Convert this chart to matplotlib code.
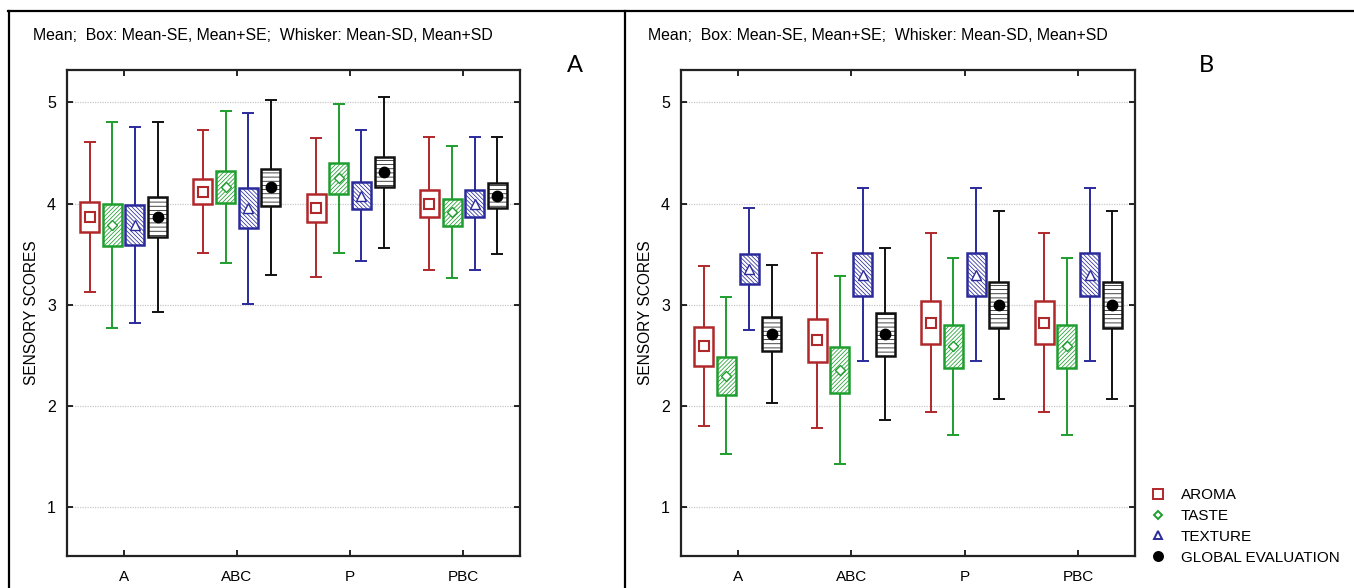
import matplotlib
matplotlib.use("Agg")
import matplotlib.pyplot as plt
from matplotlib.lines import Line2D
import numpy as np

plt.rcParams['font.family'] = ['Liberation Sans', 'DejaVu Sans']
plt.rcParams['hatch.linewidth'] = 0.55

categories = ["A", "ABC", "P", "PBC"]
series = ["AROMA", "TASTE", "TEXTURE", "GLOBAL EVALUATION"]

# Panel A
a_aroma_mean = [3.87, 4.12, 3.96, 4.00]
a_aroma_se = [0.15, 0.125, 0.14, 0.135]
a_aroma_sd = [0.74, 0.61, 0.685, 0.655]
a_taste_mean = [3.79, 4.165, 4.25, 3.915]
a_taste_se = [0.21, 0.16, 0.15, 0.135]
a_taste_sd = [1.015, 0.755, 0.735, 0.65]
a_texture_mean = [3.79, 3.955, 4.08, 4.00]
a_texture_se = [0.20, 0.195, 0.13, 0.13]
a_texture_sd = [0.97, 0.945, 0.65, 0.655]
a_global_mean = [3.87, 4.16, 4.31, 4.08]
a_global_se = [0.195, 0.18, 0.15, 0.12]
a_global_sd = [0.94, 0.865, 0.745, 0.58]

# Panel B
b_aroma_mean = [2.59, 2.65, 2.825, 2.825]
b_aroma_se = [0.19, 0.21, 0.215, 0.215]
b_aroma_sd = [0.79, 0.865, 0.885, 0.885]
b_taste_mean = [2.30, 2.355, 2.59, 2.59]
b_taste_se = [0.19, 0.225, 0.21, 0.21]
b_taste_sd = [0.775, 0.93, 0.87, 0.87]
b_texture_mean = [3.355, 3.30, 3.30, 3.30]
b_texture_se = [0.15, 0.21, 0.21, 0.21]
b_texture_sd = [0.605, 0.85, 0.85, 0.85]
b_global_mean = [2.71, 2.71, 3.00, 3.00]
b_global_se = [0.17, 0.21, 0.23, 0.23]
b_global_sd = [0.68, 0.85, 0.93, 0.93]

panel_a = [(a_aroma_mean, a_aroma_se, a_aroma_sd),
           (a_taste_mean, a_taste_se, a_taste_sd),
           (a_texture_mean, a_texture_se, a_texture_sd),
           (a_global_mean, a_global_se, a_global_sd)]
panel_b = [(b_aroma_mean, b_aroma_se, b_aroma_sd),
           (b_taste_mean, b_taste_se, b_taste_sd),
           (b_texture_mean, b_texture_se, b_texture_sd),
           (b_global_mean, b_global_se, b_global_sd)]

colors = ["#B0282A", "#1E9E2E", "#2A2A9C", "#111111"]
hatches = [None, "////////", "\\\\\\\\\\\\\\\\", "----"]
markers = ["s", "D", "^", "o"]
msizes = [7, 5, 7, 7.5]
mfaces = ["white", "white", "white", "black"]
mcols = ["#B0282A", "#1E9E2E", "#2A2A9C", "black"]
offsets = [-0.3, -0.1, 0.1, 0.3]
box_w = 0.167

W, H = 1354, 588
fig = plt.figure(figsize=(W / 100, H / 100), dpi=100)

def draw_panel(ax, data):
    x = np.arange(len(categories))
    for i, (m, se, sd) in enumerate(data):
        m = np.array(m); se = np.array(se); sd = np.array(sd)
        xi = x + offsets[i]
        ax.errorbar(xi, m, yerr=sd, fmt="none", ecolor=colors[i], elinewidth=1.4,
                    capsize=4.6, capthick=1.4, zorder=2)
        ax.bar(xi, 2 * se, bottom=m - se, width=box_w, color="white",
               edgecolor=colors[i], hatch=hatches[i], linewidth=1.8, zorder=3)
        ax.plot(xi, m, linestyle="none", marker=markers[i], markersize=msizes[i],
                markerfacecolor=mfaces[i], markeredgecolor=mcols[i],
                markeredgewidth=1.5 if i == 0 else 1.0, zorder=4)
    ax.set_xlim(-0.5, 3.5)
    ax.set_ylim(0.52, 5.32)
    ax.set_xticks(x)
    ax.set_xticklabels(categories, fontsize=11)
    ax.set_yticks([1, 2, 3, 4, 5])
    ax.set_yticklabels(["1", "2", "3", "4", "5"], fontsize=11.5)
    ax.tick_params(direction="in", top=True, right=True, length=4, width=1.2, pad=8)
    ax.tick_params(axis="x", pad=10)
    ax.grid(axis="y", color="#c8c8c8", linestyle=(0, (1, 1)), linewidth=0.9, zorder=0)
    ax.set_axisbelow(True)
    for s in ax.spines.values():
        s.set_linewidth(1.6)
        s.set_color("#222222")
    ax.set_ylabel("SENSORY SCORES", fontsize=11.2, labelpad=6)

axA = fig.add_axes([67 / W, 1 - 556 / H, 453 / W, 486 / H])
axB = fig.add_axes([681 / W, 1 - 556 / H, 454 / W, 486 / H])
draw_panel(axA, panel_a)
draw_panel(axB, panel_b)

title = "Mean;  Box: Mean-SE, Mean+SE;  Whisker: Mean-SD, Mean+SD"
fig.text(33 / W, 1 - 35 / H, title, fontsize=11.4, va="center", ha="left")
fig.text(648 / W, 1 - 35 / H, title, fontsize=11.4, va="center", ha="left")
fig.text(575 / W, 1 - 65 / H, "A", fontsize=17, va="center", ha="center", family=["Lato", "DejaVu Sans"])
fig.text(1206 / W, 1 - 65 / H, "B", fontsize=17, va="center", ha="center", family=["Lato", "DejaVu Sans"])

# frame lines
fig.add_artist(Line2D([8 / W, 1.0], [1 - 11 / H, 1 - 11 / H], color="black", lw=1.6))
fig.add_artist(Line2D([9 / W, 9 / W], [0, 1 - 11 / H], color="black", lw=1.6))
fig.add_artist(Line2D([625 / W, 625 / W], [0, 1 - 11 / H], color="black", lw=1.6))

handles = []
for i in range(4):
    handles.append(Line2D([], [], linestyle="none", marker=markers[i],
                          markersize=[6.5, 4.5, 6, 6.5][i], markerfacecolor=mfaces[i],
                          markeredgecolor=mcols[i], markeredgewidth=1.4))
fig.legend(handles, series, loc="upper left", bbox_to_anchor=(1149 / W, 1 - 488 / H),
           frameon=False, fontsize=11, handlelength=1.2, handletextpad=0.9,
           labelspacing=0.45, borderaxespad=0, borderpad=0)

fig.savefig("out.png", dpi=100)
